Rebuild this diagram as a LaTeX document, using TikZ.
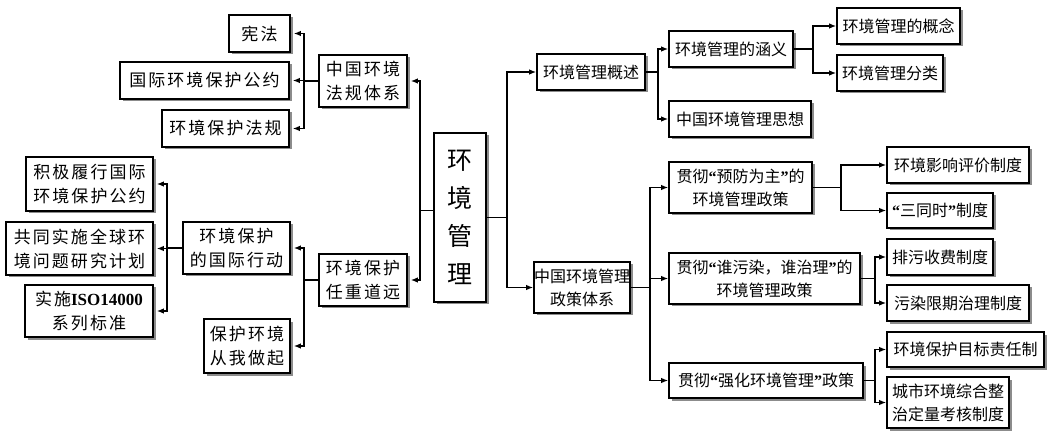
\documentclass[tikz,border=0pt]{standalone}
\usepackage{fontspec}
\setmainfont{Noto Sans CJK SC}
\newfontfamily\lserif{Liberation Serif}
\newfontfamily\widecjk[LetterSpace=12]{Noto Sans CJK SC}
\usetikzlibrary{arrows.meta,shadows}
\newcommand{\myq}[1]{{\lserif\bfseries “}#1{\lserif\bfseries ”}}
\tikzset{
  box/.style={draw, line width=1.6pt, fill=white, inner sep=0pt, align=center,
    drop shadow={shadow xshift=2.5pt, shadow yshift=-2.5pt, fill=black!45, opacity=1}},
  lbox/.style={box, font=\widecjk\fontsize{17}{24}\selectfont},
  rbox/.style={box, font=\fontsize{16}{23}\selectfont},
  arr/.style={line width=1.5pt, -{Latex[length=7pt,width=5.5pt]}},
  larr/.style={arr, shorten >=3pt},
}
\begin{document}
\begin{tikzpicture}[x=1pt,y=-1pt]
\fill[white] (0,0) rectangle (1052,438);
\useasboundingbox (0,0) rectangle (1052,438);
% left top
\node[lbox, minimum width=61pt, minimum height=37pt] (xf) at (259.5,33.5) {宪法};
\node[lbox, minimum width=169pt, minimum height=37pt] (gjgy) at (204.5,80.5) {国际环境保护公约};
\node[lbox, minimum width=127pt, minimum height=37pt] (hbfg) at (225.5,128.5) {环境保护法规};
\node[lbox, minimum width=88pt, minimum height=52pt] (fz) at (363,81) {中国环境\\法规体系};
% left bottom
\node[lbox, minimum width=127pt, minimum height=54pt] (jj) at (89.5,184) {积极履行国际\\环境保护公约};
\node[lbox, minimum width=147pt, minimum height=53pt] (gt) at (79.5,248.5) {共同实施全球环\\境问题研究计划};
\node[lbox, minimum width=128pt, minimum height=52pt] (iso) at (89,311) {实施{\lserif\bfseries ISO14000}\\系列标准};
\node[lbox, minimum width=107pt, minimum height=52pt] (gjxd) at (236.5,248) {环境保护\\的国际行动};
\node[lbox, minimum width=86pt, minimum height=54pt] (wz) at (247,346) {保护环境\\从我做起};
\node[lbox, minimum width=88pt, minimum height=52pt] (rz) at (363,280) {环境保护\\任重道远};
% center
\node[box, minimum width=52pt, minimum height=169pt, font=\fontsize{25}{38}\selectfont] (hjgl) at (460,217.5) {环\\境\\管\\理};
% right
\node[rbox, minimum width=108pt, minimum height=36pt] (gs) at (591,72) {环境管理概述};
\node[rbox, minimum width=90pt, minimum height=51pt] (zc) at (582,287.5) {中国环境管理\\政策体系};
\node[rbox, minimum width=124pt, minimum height=36pt] (hy) at (731,49) {环境管理的涵义};
\node[rbox, minimum width=142pt, minimum height=36pt] (sx) at (740,119) {中国环境管理思想};
\node[rbox, minimum width=123pt, minimum height=36pt] (gn) at (898.5,26) {环境管理的概念};
\node[rbox, minimum width=106pt, minimum height=36pt] (fl) at (890,73) {环境管理分类};
\node[rbox, minimum width=143pt, minimum height=51pt] (p1) at (740.5,187.5) {贯彻\myq{预防为主}的\\环境管理政策};
\node[rbox, minimum width=191pt, minimum height=51pt] (p2) at (764.5,278.5) {贯彻\myq{谁污染，谁治理}的\\环境管理政策};
\node[rbox, minimum width=194pt, minimum height=35pt] (p3) at (766,380.5) {贯彻\myq{强化环境管理}政策};
\node[rbox, minimum width=142pt, minimum height=36pt] (e1) at (958,165) {环境影响评价制度};
\node[rbox, minimum width=106pt, minimum height=35pt] (e2) at (940,210.5) {\myq{三同时}制度};
\node[rbox, minimum width=106pt, minimum height=36pt] (e3) at (940,257) {排污收费制度};
\node[rbox, minimum width=142pt, minimum height=36pt] (e4) at (958,303) {污染限期治理制度};
\node[rbox, minimum width=157pt, minimum height=35pt] (e5) at (965.5,349.5) {环境保护目标责任制};
\node[rbox, minimum width=122pt, minimum height=51pt] (e6) at (948,402.5) {城市环境综合整\\治定量考核制度};
% connectors left
\foreach \c in {xf,gjgy,hbfg} \draw[larr] (fz.west) -- ++(-14,0) |- (\c.east);
\foreach \c in {jj,gt,iso} \draw[larr] (gjxd.west) -- ++(-15,0) |- (\c.east);
\foreach \c in {gjxd,wz} \draw[larr] (rz.west) -- ++(-14,0) |- (\c.east);
\foreach \c in {fz,rz} \draw[larr] ([yshift=7pt]hjgl.west) -- ++(-13,0) |- (\c.east);
% connectors right
\foreach \c in {gs,zc} \draw[arr] (hjgl.east) -- ++(20,0) |- (\c.west);
\foreach \c in {hy,sx} \draw[arr] (gs.east) -- ++(12,0) |- (\c.west);
\foreach \c in {gn,fl} \draw[arr] (hy.east) -- ++(19,0) |- (\c.west);
\foreach \c in {p1,p2,p3} \draw[arr] (zc.east) -- ++(19,0) |- (\c.west);
\foreach \c in {e1,e2} \draw[arr] (p1.east) -- ++(28,0) |- (\c.west);
\foreach \c in {e3,e4} \draw[arr] (p2.east) -- ++(14,0) |- (\c.west);
\foreach \c in {e5,e6} \draw[arr] (p3.east) -- ++(11,0) |- (\c.west);
\end{tikzpicture}
\end{document}
